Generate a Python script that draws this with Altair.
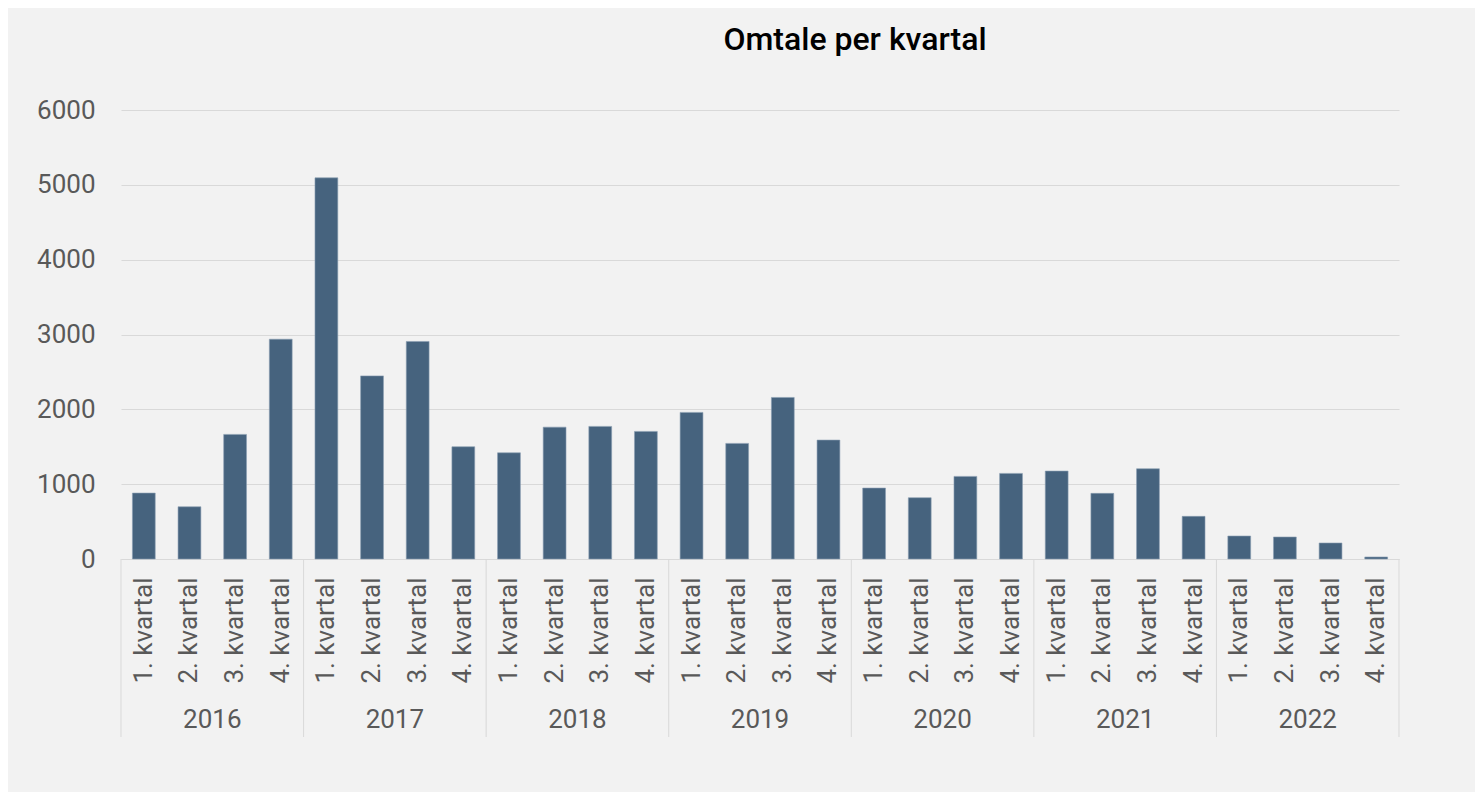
import altair as alt
import pandas as pd

years = ["2016", "2017", "2018", "2019", "2020", "2021", "2022"]
quarters = ["1. kvartal", "2. kvartal", "3. kvartal", "4. kvartal"]
values = [
    881, 698, 1665, 2937,
    5093, 2447, 2907, 1500,
    1419, 1762, 1772, 1705,
    1959, 1545, 2159, 1589,
    948, 819, 1104, 1144,
    1175, 877, 1206, 570,
    307, 294, 214, 27,
]
y_ticks = [0, 1000, 2000, 3000, 4000, 5000, 6000]

rows = []
i = 0
for yr in years:
    for q in quarters:
        rows.append({"year": yr, "quarter": q, "key": f"{yr}|{q}", "value": values[i]})
        i += 1
df = pd.DataFrame(rows)
keys = list(df["key"])

year_df = pd.DataFrame({"year": years, "key": [f"{y}|{quarters[1]}" for y in years]})
sep_df = pd.DataFrame({"key": [f"{y}|{quarters[0]}" for y in years]})
end_df = pd.DataFrame({"key": [f"{years[-1]}|{quarters[-1]}"]})

FONT = "Roboto"
FS = 26
W, H = 1278, 449

xscale = alt.Scale(domain=keys, paddingInner=0, paddingOuter=0)

bars = alt.Chart(df).mark_bar(
    width={"band": 0.5}, color="#46637e", stroke="#8a9db1", strokeWidth=0.6
).encode(
    x=alt.X("key:N", scale=xscale, sort=keys, title=None,
            axis=alt.Axis(labelAngle=-90, labelExpr="split(datum.value, '|')[1]",
                          labelFont=FONT, labelFontSize=FS, labelColor="#595959",
                          labelPadding=18, ticks=False, domain=True,
                          domainColor="#d9d9d9", domainWidth=1, grid=False,
                          labelAlign="right", labelBaseline="middle")),
    y=alt.Y("value:Q", scale=alt.Scale(domain=[0, 6000], nice=False), title=None,
            axis=alt.Axis(values=y_ticks, format="d", labelFont=FONT, labelFontSize=FS,
                          labelColor="#595959", labelPadding=26, ticks=False,
                          domain=False, gridColor="#d9d9d9", gridWidth=1)),
)

year_text = alt.Chart(year_df).mark_text(
    font=FONT, fontSize=FS, color="#595959", baseline="middle", align="center"
).encode(
    x=alt.X("key:N", scale=xscale, sort=keys, bandPosition=1),
    y=alt.value(H + 161),
    text="year:N",
)

seps = alt.Chart(sep_df).mark_rule(color="#d9d9d9", strokeWidth=1).encode(
    x=alt.X("key:N", scale=xscale, sort=keys, bandPosition=0),
    y=alt.value(H),
    y2=alt.value(H + 178),
)

end_sep = alt.Chart(end_df).mark_rule(color="#d9d9d9", strokeWidth=1).encode(
    x=alt.X("key:N", scale=xscale, sort=keys, bandPosition=1),
    y=alt.value(H),
    y2=alt.value(H + 178),
)

chart = alt.layer(bars, seps, end_sep, year_text).properties(
    width=W,
    height=H,
    title=alt.TitleParams("Omtale per kvartal", font=FONT, fontSize=32,
                          fontWeight=500, color="#000000", anchor="middle",
                          dx=95, offset=40),
    autosize=alt.AutoSizeParams(type="none"),
    padding={"left": 113, "top": 102, "right": 76, "bottom": 233},
    background="#f2f2f2",
).configure_view(stroke=None)

chart.save("out.html", embed_options={"renderer": "svg", "actions": False})
